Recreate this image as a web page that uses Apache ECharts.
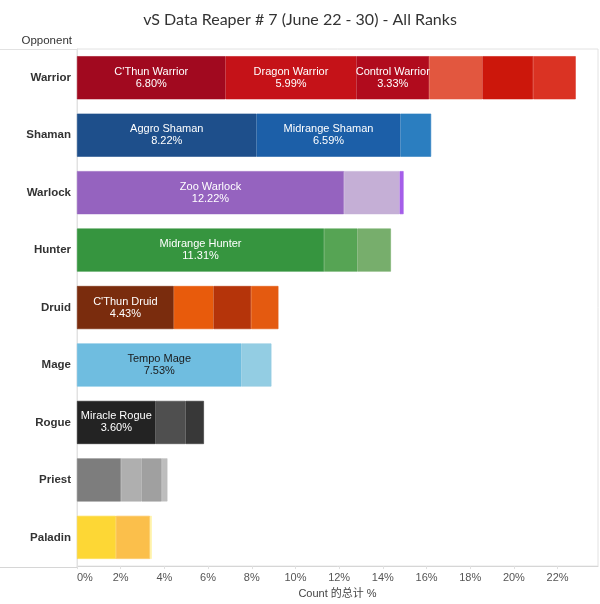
<!DOCTYPE html>
<html>
<head>
<meta charset="utf-8">
<script src="https://cdn.jsdelivr.net/npm/echarts@6/dist/echarts.min.js"></script>
<style>
html,body{margin:0;padding:0;background:#fff;}
#chart{width:600px;height:604px;}
</style>
</head>
<body>
<div id="chart"></div>
<script>
const categories = ['Warrior','Shaman','Warlock','Hunter','Druid','Mage','Rogue','Priest','Paladin'];
const tickLabels = ['0%','2%','4%','6%','8%','10%','12%','14%','16%','18%','20%','22%'];

const warriorValues = [6.80, 5.99, 3.33, 2.44, 2.32, 1.95];
const shamanValues  = [8.22, 6.59, 1.40];
const warlockValues = [12.22, 2.55, 0.18];
const hunterValues  = [11.31, 1.53, 1.53];
const druidValues   = [4.43, 1.82, 1.72, 1.25];
const mageValues    = [7.53, 1.37];
const rogueValues   = [3.60, 1.37, 0.84];
const priestValues  = [2.01, 0.95, 0.92, 0.26];
const paladinValues = [1.78, 1.56, 0.08];

const warriorDecks = ["C'Thun Warrior", 'Dragon Warrior', 'Control Warrior'];
const shamanDecks  = ['Aggro Shaman', 'Midrange Shaman'];
const warlockDecks = ['Zoo Warlock'];
const hunterDecks  = ['Midrange Hunter'];
const druidDecks   = ["C'Thun Druid"];
const mageDecks    = ['Tempo Mage'];
const rogueDecks   = ['Miracle Rogue'];
const priestDecks  = [];
const paladinDecks = [];

const warriorColors = ['#a1091f','#c51218','#b10b1d','#e2573f','#cc170b','#da3323'];
const shamanColors  = ['#1e4f8b','#1c5fa8','#2b7ec0'];
const warlockColors = ['#9563bf','#c5afd6','#a55ee9'];
const hunterColors  = ['#36953f','#56a454','#77ae6c'];
const druidColors   = ['#7a2c0d','#e85b0c','#b5340a','#e45a10'];
const mageColors    = ['#6fbde0','#93cde3'];
const rogueColors   = ['#232323','#4f4f4f','#383838'];
const priestColors  = ['#7d7d7d','#afafaf','#a0a0a0','#bdbdbd'];
const paladinColors = ['#fdd735','#fbbf4b','#fff1a0'];

const allValues = [warriorValues, shamanValues, warlockValues, hunterValues, druidValues, mageValues, rogueValues, priestValues, paladinValues];
const allDecks  = [warriorDecks, shamanDecks, warlockDecks, hunterDecks, druidDecks, mageDecks, rogueDecks, priestDecks, paladinDecks];
const allColors = [warriorColors, shamanColors, warlockColors, hunterColors, druidColors, mageColors, rogueColors, priestColors, paladinColors];

const maxSeg = Math.max(...allValues.map(a => a.length));
const series = [];
for (let s = 0; s < maxSeg; s++) {
  series.push({
    type: 'bar',
    stack: 'total',
    barCategoryGap: '25%',
    silent: true,
    data: categories.map((c, ci) => {
      const v = allValues[ci][s];
      if (v === undefined) return '-';
      const name = allDecks[ci][s];
      const dark = (ci === 5 && s === 0);
      const col = allColors[ci][s];
      return {
        value: v,
        itemStyle: { color: col, borderColor: col, borderWidth: 0.6 },
        label: name ? {
          show: true,
          position: 'inside',
          formatter: name + '\n' + v.toFixed(2) + '%',
          color: dark ? '#1a1a1a' : '#ffffff',
          fontSize: 11,
          lineHeight: 12,
          fontFamily: 'Liberation Sans, Arial, sans-serif'
        } : { show: false }
      };
    })
  });
}

const chart = echarts.init(document.getElementById('chart'));
chart.setOption({
  animation: false,
  backgroundColor: '#ffffff',
  title: {
    text: 'vS Data Reaper # 7 (June 22 - 30) - All Ranks',
    left: 'center',
    top: 7,
    textStyle: { fontFamily: 'Lato, "Open Sans", sans-serif', fontSize: 16, fontWeight: 'normal', color: '#333' }
  },
  grid: {
    left: 77, right: 2, top: 49, bottom: 37,
    show: true, borderColor: '#e2e2e2', borderWidth: 1
  },
  xAxis: {
    type: 'value',
    min: 0,
    max: 23.85,
    interval: 2,
    splitLine: { show: false },
    axisLine: { show: true, lineStyle: { color: '#d6d6d6' } },
    axisTick: { show: true, length: 3, lineStyle: { color: '#e0e0e0' } },
    axisLabel: {
      color: '#555',
      fontSize: 11,
      margin: 6,
      fontFamily: 'Liberation Sans, Arial, sans-serif',
      showMaxLabel: false,
      alignMinLabel: 'left',
      formatter: function (v) {
        const i = Math.round(v / 2);
        return Math.abs(v - i * 2) < 1e-6 && tickLabels[i] ? tickLabels[i] : '';
      }
    },
    name: 'Count 的总计 %',
    nameLocation: 'middle',
    nameGap: 21,
    nameTextStyle: { color: '#444', fontSize: 11, fontFamily: 'Liberation Sans, Arial, "Noto Sans CJK SC", sans-serif' }
  },
  yAxis: {
    type: 'category',
    data: categories,
    inverse: true,
    axisLine: { show: true, lineStyle: { color: '#e2e2e2' } },
    axisTick: { show: false },
    axisLabel: {
      color: '#333',
      fontSize: 11.5,
      fontWeight: 'bold',
      margin: 6,
      fontFamily: 'Liberation Sans, Arial, sans-serif'
    }
  },
  graphic: [
    { type: 'line', shape: { x1: 0, y1: 49.5, x2: 77, y2: 49.5 }, style: { stroke: '#e2e2e2', lineWidth: 1 }, silent: true },
    { type: 'line', shape: { x1: 0, y1: 567.5, x2: 77, y2: 567.5 }, style: { stroke: '#d6d6d6', lineWidth: 1 }, silent: true },
    { type: 'text', x: 72, y: 41, silent: true,
      style: { text: 'Opponent', textAlign: 'right', textVerticalAlign: 'middle', fill: '#333', fontSize: 11.5, fontFamily: 'Liberation Sans, Arial, sans-serif' } }
  ],
  series: series
});
</script>
</body>
</html>
